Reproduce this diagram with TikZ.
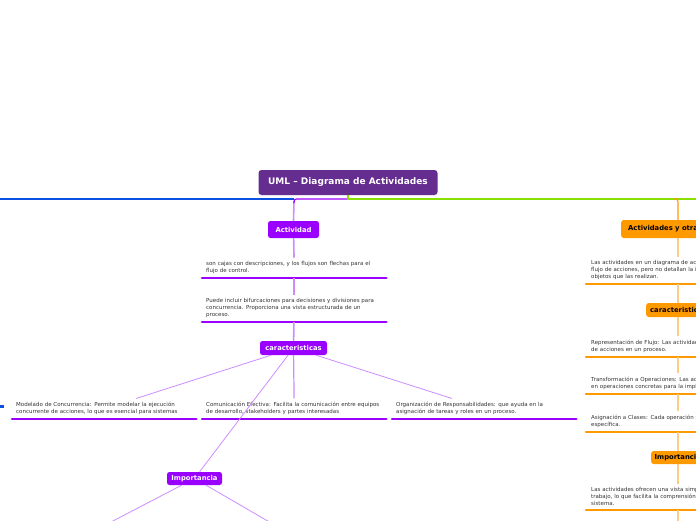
\documentclass[tikz,border=0pt]{standalone}
\usepackage{fontspec}
\usetikzlibrary{calc}
\setmainfont{DejaVu Sans}
\definecolor{rootc}{HTML}{662D91}
\definecolor{pur}{HTML}{9900FF}
\definecolor{lpur}{HTML}{CC8CFF}
\definecolor{blu}{HTML}{0B50E0}
\definecolor{grn}{HTML}{88E000}
\definecolor{org}{HTML}{FF9900}
\definecolor{lorg}{HTML}{FFCC88}
\definecolor{txt}{HTML}{333333}
\tikzset{
  rootbox/.style={fill=rootc, rounded corners=3pt, text=white,
    font=\bfseries\fontsize{9}{10}\selectfont, minimum width=179pt, minimum height=25pt, inner sep=0pt},
  pbox/.style={fill=pur, rounded corners=2.5pt, text=white,
    font=\bfseries\fontsize{6.8}{8}\selectfont, inner sep=0pt},
  obox/.style={fill=org, rounded corners=2.5pt, text=black, anchor=west,
    font=\bfseries\fontsize{6.8}{8}\selectfont, inner ysep=0pt},
  item/.style={anchor=south west, align=left, text=txt, text width=176pt,
    font=\fontsize{5.5}{7}\selectfont, inner xsep=4pt, inner ysep=3.8pt},
  oitem/.style={item, text width=300pt, inner xsep=5pt},
  pul/.style={draw=pur, line width=2.6pt, line cap=round},
  oul/.style={draw=org, line width=2.6pt, line cap=round},
  spine/.style={draw=lpur, line width=1.6pt},
  twig/.style={draw=lpur, line width=0.8pt},
  ospine/.style={draw=lorg, line width=1.4pt},
}
\begin{document}
\begin{tikzpicture}[x=1pt,y=-1pt]
\useasboundingbox (0,0) rectangle (696,520);
\clip (0,0) rectangle (696,520);

% ---------- nodes ----------
\node[rootbox] (root) at (348,182.5) {UML – Diagrama de Actividades};

\node[pbox, minimum width=51pt, minimum height=17pt] (act) at (293.5,229.5) {Actividad};
\node[item] (t1) at (202,278) {son cajas con descripciones, y los flujos son flechas para el\\flujo de control.};
\node[item] (t2) at (202,322) {Puede incluir bifurcaciones para decisiones y divisiones para\\concurrencia. Proporciona una vista estructurada de un\\proceso.};
\node[pbox, minimum width=67pt, minimum height=14pt] (car) at (293.5,348) {caracteristicas};
\node[item] (m1) at (12,419) {Modelado de Concurrencia: Permite modelar la ejecución\\concurrente de acciones, lo que es esencial para sistemas};
\node[item] (m2) at (202,419) {Comunicación Efectiva: Facilita la comunicación entre equipos\\de desarrollo, stakeholders y partes interesadas};
\node[item] (m3) at (392,419) {Organización de Responsabilidades: que ayuda en la\\asignación de tareas y roles en un proceso.};
\node[pbox, minimum width=55pt, minimum height=13pt] (imp) at (194.5,478.5) {Importancia};

\node[obox, minimum height=18pt, inner xsep=7pt] (oact) at (621,229) {Actividades y otras clases};
\node[oitem] (o1) at (586,284) {Las actividades en un diagrama de actividades representan el\\flujo de acciones, pero no detallan la implementación ni los\\objetos que las realizan.};
\node[obox, minimum height=14pt, inner xsep=4pt] (ocar) at (646,310) {caracteristicas};
\node[oitem] (o2) at (586,357) {Representación de Flujo: Las actividades muestran la secuencia\\de acciones en un proceso.};
\node[oitem] (o3) at (586,394) {Transformación a Operaciones: Las actividades se transforman\\en operaciones concretas para la implementación.};
\node[oitem] (o4) at (586,432) {Asignación a Clases: Cada operación se asigna a una clase\\específica.};
\node[obox, minimum height=13pt, inner xsep=3.5pt] (oimp) at (651,457.5) {Importancia};
\node[oitem] (o5) at (586,510) {Las actividades ofrecen una vista simplificada del flujo de\\trabajo, lo que facilita la comprensión del\\sistema.};

% ---------- coordinates ----------
\coordinate (hub) at (348,199);
\coordinate (pc) at (294,199);
\coordinate (bend) at (-5,199);
\coordinate (gend) at (705,199);
\coordinate (ox) at (678,199);
\coordinate (obot) at (678,530);
\coordinate (c1) at (38,560);
\coordinate (c2) at (335,560);
\coordinate (bl1) at (-6,406.5);
\coordinate (bl2) at (4,406.5);

% ---------- underlines ----------
\foreach \n in {t1,t2,m1,m2,m3} \draw[pul] (\n.south west) -- (\n.south east);
\foreach \n in {o1,o2,o3,o4,o5} \draw[oul] (\n.south west) -- (\n.south east);
\draw[draw=blu, line width=2.4pt] (bl1) -- (bl2);

% ---------- main lines ----------
\draw[spine] ($(pc)+(0,2)$) -- (act.north);
\draw[draw=blu, line width=1.1pt] (pc) -- (bend);
\draw[draw=pur, line width=1.1pt, rounded corners=2.5pt] (hub) -- (pc) -- ++(0,4);
\draw[draw=grn, line width=1.1pt] (root.south) -- (hub) -- (gend);
\draw[draw=org, line width=1.1pt, rounded corners=2.5pt] ($(ox)+(-1,0)$) -- (ox) -- (ox |- oact.north);

% ---------- purple branch ----------
\draw[spine] (act) -- (t1);
\draw[spine] (t1) -- (t2);
\draw[spine] (t2) -- (car);
\draw[twig] (car) -- (m1);
\draw[draw=lpur, line width=1.2pt] (car) -- (m2);
\draw[twig] (car) -- (m3);
\draw[twig] (car) -- (imp);
\draw[twig] (imp) -- (c1);
\draw[twig] (imp) -- (c2);

% ---------- orange branch ----------
\draw[ospine] (ox |- oact.south) -- (ox |- o1.north);
\draw[ospine] (ox |- o1.south) -- (ox |- ocar.north);
\draw[ospine] (ox |- ocar.south) -- (ox |- o2.north);
\draw[ospine] (ox |- o2.south) -- (ox |- o3.north);
\draw[ospine] (ox |- o3.south) -- (ox |- o4.north);
\draw[ospine] (ox |- o4.south) -- (ox |- oimp.north);
\draw[ospine] (ox |- oimp.south) -- (ox |- o5.north);
\draw[ospine] (ox |- o5.south) -- (obot);
\end{tikzpicture}
\end{document}
